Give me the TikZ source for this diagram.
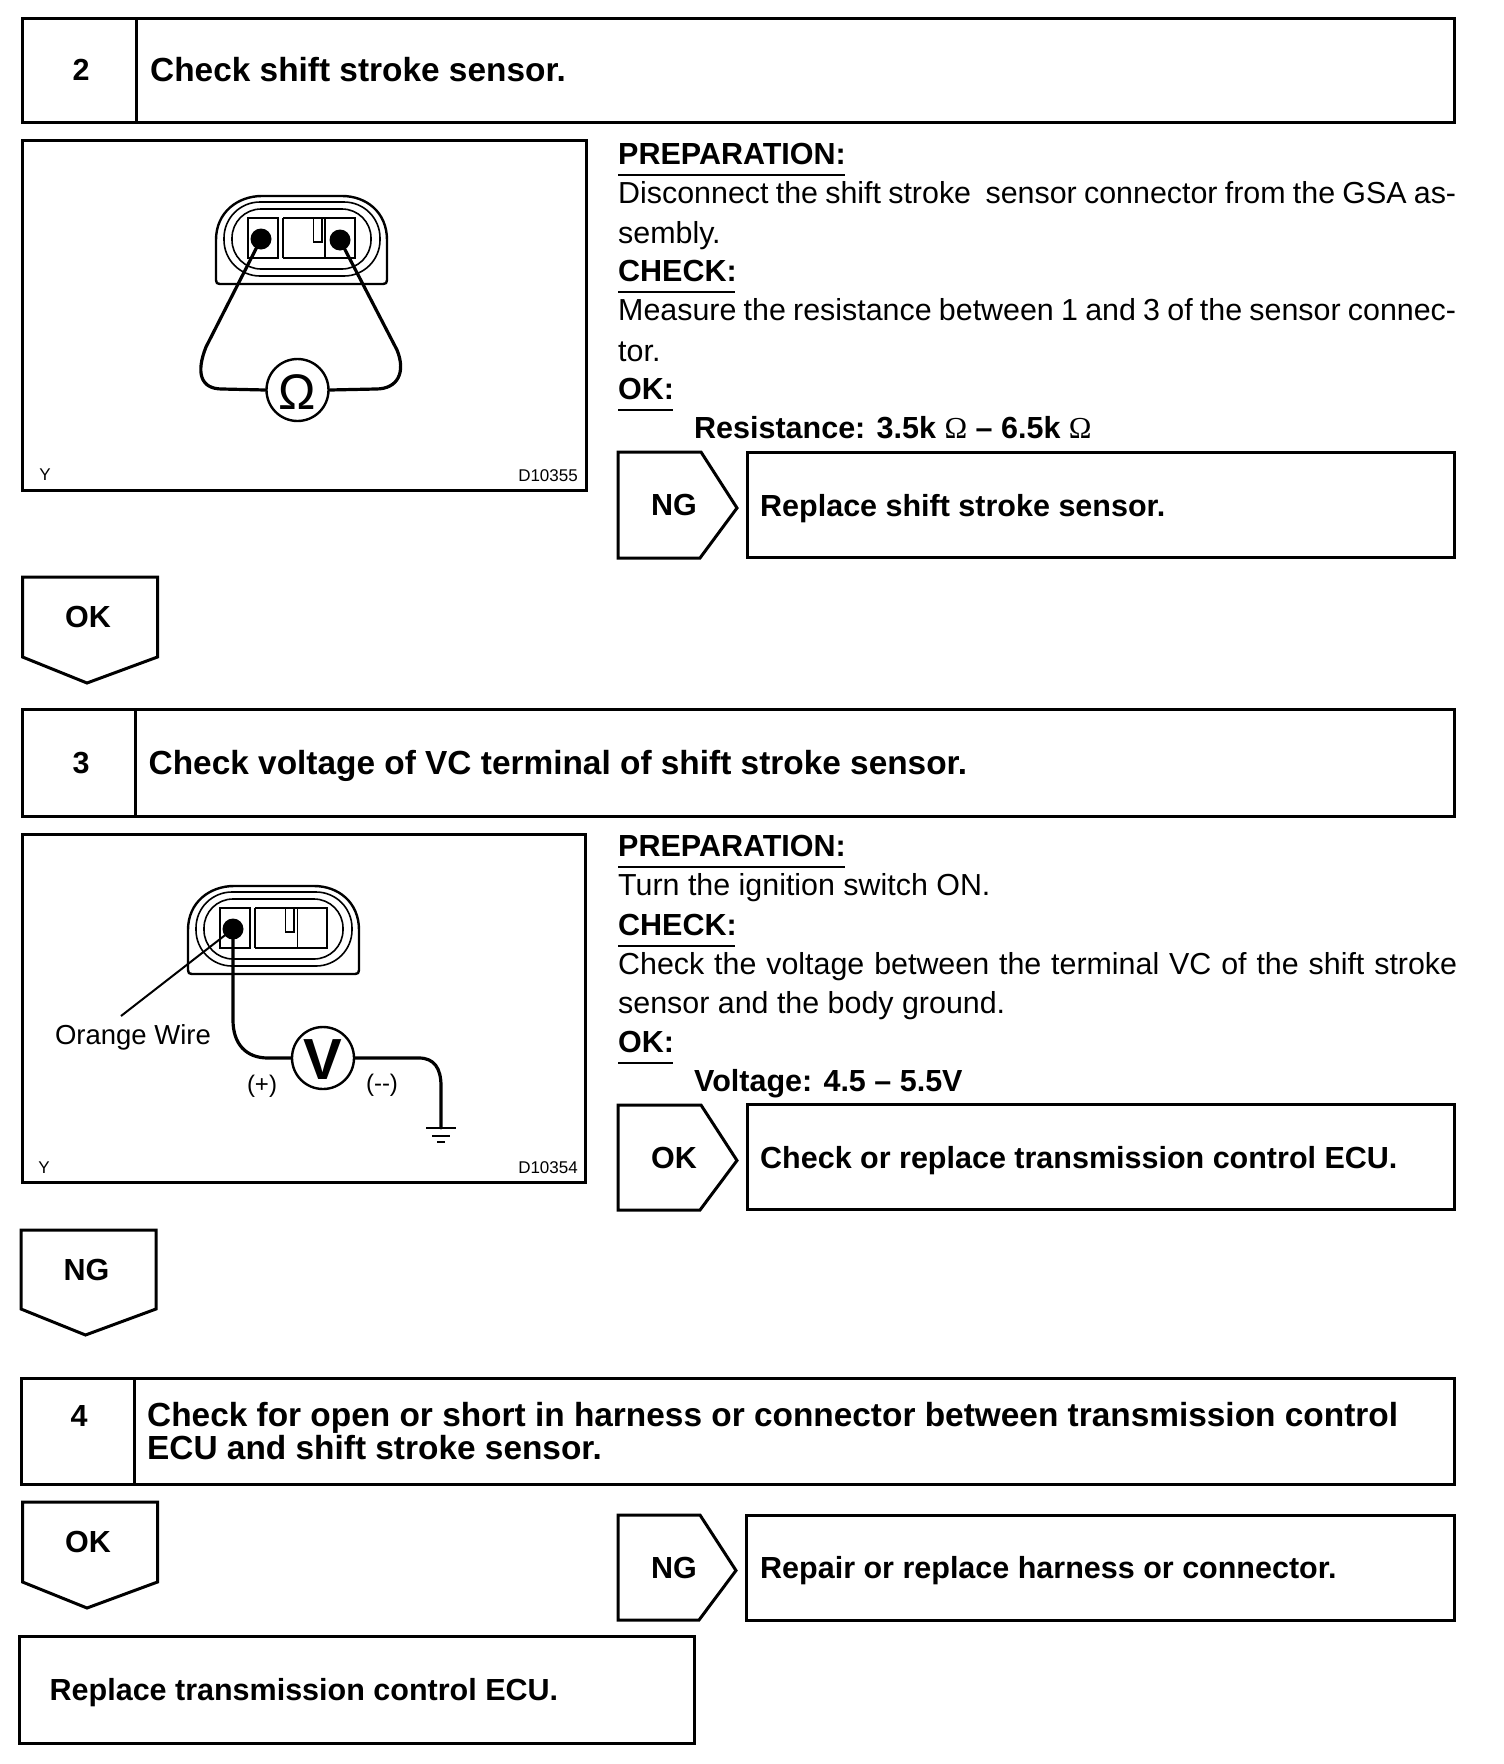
\documentclass[tikz,border=0pt]{standalone}
\usepackage{fontspec}
\setmainfont{Liberation Sans}
\newfontfamily\omegafont{Liberation Serif}
\usetikzlibrary{calc}
\newcommand{\szbody}{\fontsize{30.4}{34}\selectfont}
\newcommand{\szbold}{\fontsize{30.5}{36}\bfseries\selectfont}
\newcommand{\sztitle}{\fontsize{33.4}{38}\bfseries\selectfont}
\newcommand{\szsmall}{\fontsize{17}{19}\selectfont}
\tikzset{
  x=1pt,y=-1pt,
  frame/.style={draw=black,line width=3pt,fill=white,rectangle,inner sep=0pt,outer sep=0pt,anchor=north west},
  shape line/.style={draw=black,line width=3pt,line join=miter},
  thin line/.style={draw=black,line width=1.6pt},
  wire/.style={draw=black,line width=3.2pt,line cap=round},
  rule line/.style={draw=black,line width=2pt},
  body/.style={inner sep=0pt,anchor=base west,font=\szbody},
  head/.style={inner sep=0pt,anchor=base west,font=\szbold},
  title/.style={inner sep=0pt,anchor=base west,font=\sztitle},
  lab/.style={inner sep=0pt,anchor=center,font=\szbold},
  tiny/.style={inner sep=0pt,font=\szsmall},
  meter/.style={circle,draw=black,line width=2.4pt,fill=white,minimum size=62pt,inner sep=0pt},
  pin/.style={circle,fill=black,minimum size=21pt,inner sep=0pt},
}
\newcommand{\Frame}[5]{\node[frame,minimum width=#4-#2,minimum height=#5-#3] (#1) at (#2,#3) {};}
\newcommand{\RightTag}[6]{% name x1 y1 x2 y2 text
  \draw[shape line] (#2,#3) -- (#4-36,#3) -- (#4,{(#3+#5)/2+3}) -- (#4-37,#5) -- (#2,#5) -- cycle;
  \node[lab] (#1) at ({#2+56},{(#3+#5)/2}) {#6};}
\newcommand{\DownTag}[6]{% name x1 y1 x2 y2 text
  \draw[shape line] (#2,#3) -- (#4,#3) -- (#4,#5-26) -- ({(#2+#4)/2-3},#5) -- (#2,#5-26) -- (#2,#3) -- cycle;
  \node[lab] (#1) at ({(#2+#4)/2-2},#3+40) {#6};}
\newcommand{\Shell}{%
  \draw[draw=black,line width=2.4pt,line join=round] (220,284) .. controls (217,284) and (216,283) .. (216,280) -- (216,240)
    .. controls (216,212) and (238,196) .. (262,196) -- (342,196)
    .. controls (366,196) and (387,212) .. (387,240) -- (387,280)
    .. controls (387,283) and (386,284) .. (383,284) -- cycle;
  \draw[thin line,rounded corners=36pt] (224,202) rectangle (380,276);
  \draw[thin line,rounded corners=29pt] (232,209) rectangle (371,269);
  \draw[line width=2.8pt] (248,218) rectangle (278,258);
  \draw[thin line] (283,218) -- (283,258) (283,218) -- (325,218) (283,258) -- (325,258);
  \draw[thin line] (313.5,218) -- (313.5,242) -- (322,242) -- (322,218);
}
\begin{document}
\begin{tikzpicture}
\useasboundingbox (0,0) rectangle (1504,1764);
\fill[white] (0,0) rectangle (1504,1764);

% ---------- step 2
\Frame{box2}{22}{18}{1454}{122}
\draw[shape line] (136,18) -- (136,122);
\node[lab] (n2) at (81,70) {2};
\node[title] (t2) at (150,81) {Check shift stroke sensor.};

\Frame{img1}{22.5}{140}{586}{490}
\Shell
\draw[line width=2.8pt] (325,218) rectangle (355,258);
\node[meter] (ohm) at (297.5,390) {};
\node[inner sep=0pt,font=\fontsize{50}{50}\selectfont] (ohmglyph) at (297.5,392) {Ω};
\node[pin] (p1a) at (261,239) {};
\node[pin] (p1b) at (340,240) {};
\coordinate (w1a) at (206,347);
\coordinate (w1b) at (397,350);
\draw[wire] (p1a.center) -- (w1a) .. controls (196,372) and (200,389) .. (222,389) -- (ohm.west);
\draw[wire] (p1b.center) -- (w1b) .. controls (406,372) and (398,389) .. (376,389) -- (ohm.east);
\node[tiny] (y1) at (45,475) {Y};
\node[tiny,anchor=east] (code1) at (578,476) {D10355};

\node[head] (prep2) at (618,164) {PREPARATION:};
\draw[rule line] (618,174.5) -- (845,174.5);
\node[body] at (618,203.5) {\makebox[838pt][s]{Disconnect the shift stroke\ \ sensor connector from the GSA as-}};
\node[body] at (618,243) {sembly.};
\node[head] (chk2) at (618,281) {CHECK:};
\draw[rule line] (618,291.5) -- (735,291.5);
\node[body] at (618,320.5) {\makebox[838pt][s]{Measure the resistance between 1 and 3 of the sensor connec-}};
\node[body] at (618,361) {tor.};
\node[head] (ok2) at (618,399.5) {OK:};
\draw[rule line] (618,409.5) -- (673,409.5);
\node[head] (res) at (694,438) {Resistance: 3.5k {\omegafont\mdseries Ω} – 6.5k {\omegafont\mdseries Ω}};
\RightTag{ng2}{618}{452}{737}{558}{NG}
\Frame{rep2}{747}{452}{1454}{557}
\node[head] (t2b) at (760,516) {Replace shift stroke sensor.};
\DownTag{ok2t}{22.5}{577}{157.5}{683}{OK}

% ---------- step 3
\Frame{box3}{22}{709}{1454}{816}
\draw[shape line] (135,709) -- (135,816);
\node[lab] (n3) at (81,763) {3};
\node[title] (t3) at (148.5,774) {Check voltage of VC terminal of shift stroke sensor.};

\Frame{img2}{22}{834}{585}{1182}
\begin{scope}[shift={(-28,690)}]
\Shell
\draw[thin line] (325.5,218) -- (325.5,258) (325,218) -- (355,218) -- (355,258) -- (325,258);
\end{scope}
\node[pin] (p2) at (233,929) {};
\node[meter] (volt) at (323,1058) {};
\node[inner sep=0pt,font=\bfseries\fontsize{58}{58}\selectfont] (vglyph) at (323,1060) {V};
\coordinate (w2a) at (233,1020);
\coordinate (w2b) at (419,1058);
\coordinate (gnd) at (441,1128);
\draw[wire] (p2.center) -- (w2a) .. controls (233,1044) and (246,1058) .. (268,1058) -- (volt.west);
\draw[wire] (volt.east) -- (w2b) .. controls (434,1058) and (441,1068) .. (441,1086) -- (gnd);
\draw[line width=2.6pt] ($(gnd)+(-15,0)$) -- ($(gnd)+(15,0)$);
\draw[line width=2pt] ($(gnd)+(-9,8)$) -- ($(gnd)+(9,8)$);
\draw[line width=2pt] ($(gnd)+(-4,14)$) -- ($(gnd)+(4,14)$);
\node[inner sep=0pt,font=\fontsize{27.5}{30}\selectfont] (wirelab) at (133,1037) {Orange Wire};
\coordinate (lead) at (121,1016);
\draw[line width=2pt] (lead) -- (p2.center);
\node[inner sep=0pt,font=\fontsize{24}{26}\selectfont] (plus) at (262,1086) {(+)};
\node[inner sep=0pt,font=\fontsize{24}{26}\selectfont] (minus) at (382,1085) {(-{}-)};
\node[tiny] (y2) at (44,1168) {Y};
\node[tiny,anchor=east] (code2) at (578,1168) {D10354};

\node[head] (prep3) at (618,856) {PREPARATION:};
\draw[rule line] (618,866.5) -- (845,866.5);
\node[body] at (618,895) {Turn the ignition switch ON.};
\node[head] (chk3) at (618,935) {CHECK:};
\draw[rule line] (618,945.5) -- (735,945.5);
\node[body] at (618,974) {\makebox[839pt][s]{Check the voltage between the terminal VC of the shift stroke}};
\node[body] at (618,1013) {sensor and the body ground.};
\node[head] (ok3) at (618,1052) {OK:};
\draw[rule line] (618,1062.5) -- (673,1062.5);
\node[head] (volts) at (694,1091) {Voltage: 4.5 – 5.5V};
\RightTag{ok3t}{618}{1105}{737}{1210}{OK}
\Frame{rep3}{747}{1104}{1454}{1209}
\node[head] (t3b) at (760,1168) {Check or replace transmission control ECU.};
\DownTag{ng3t}{21}{1230}{156}{1335}{NG}

% ---------- step 4
\Frame{box4}{21}{1378}{1454}{1484}
\draw[shape line] (134,1378) -- (134,1484);
\node[lab] (n4) at (79,1416) {4};
\node[title] (t4a) at (147,1426) {Check for open or short in harness or connector between transmission control};
\node[title] (t4b) at (147,1459) {ECU and shift stroke sensor.};
\DownTag{ok4t}{22.5}{1502}{157.5}{1608}{OK}
\RightTag{ng4t}{618}{1515}{736}{1620}{NG}
\Frame{rep4}{746}{1515}{1454}{1620}
\node[head] (t4c) at (760,1578) {Repair or replace harness or connector.};
\Frame{final}{19}{1636}{694}{1743}
\node[head] (t5) at (49.5,1700) {Replace transmission control ECU.};
\end{tikzpicture}
\end{document}
